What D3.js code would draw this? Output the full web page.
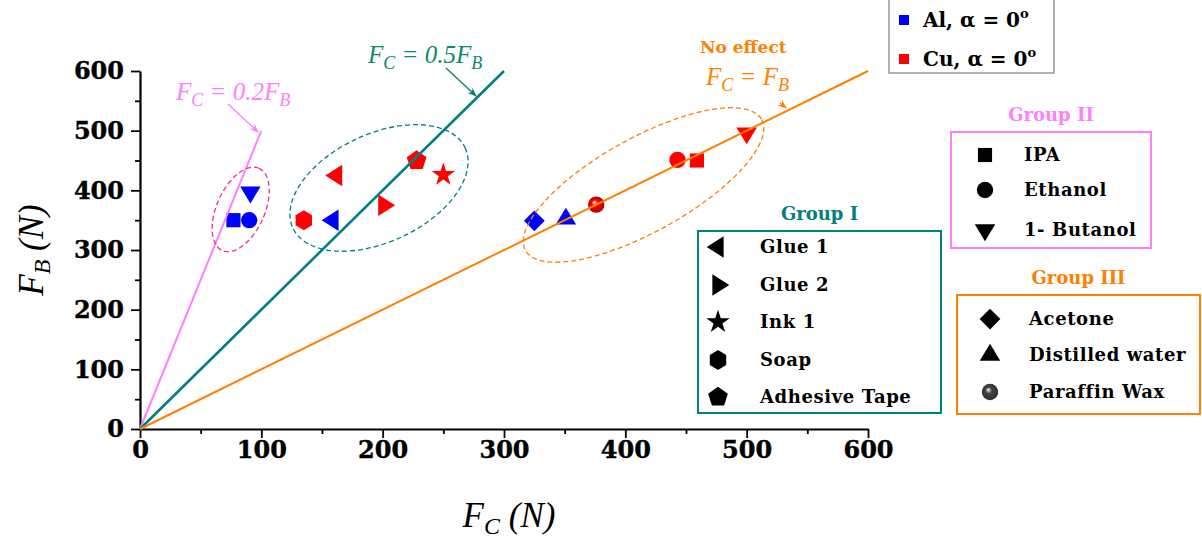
<!DOCTYPE html>
<html>
<head>
<meta charset="utf-8">
<script src="https://cdn.jsdelivr.net/npm/d3@7"></script>
<style>
  body { margin: 0; background: #fff; }
  svg { display: block; }
</style>
</head>
<body>
<div class="chart"></div>
<script>
// ---- data ----
const xTicks = [0, 100, 200, 300, 400, 500, 600];
const yTicks = [0, 100, 200, 300, 400, 500, 600];
const minorTicks = [50, 150, 250, 350, 450, 550];

const alNames = ["IPA", "Ethanol", "1- Butanol", "Glue 1", "Acetone", "Distilled water"];
const alFc = [77, 90, 91, 159, 325, 351];
const alFb = [350, 350, 397, 350, 349, 352];

const cuNames = ["Soap", "Glue 1", "Glue 2", "Adhesive Tape", "Ink 1", "Paraffin Wax", "Ethanol", "IPA", "1- Butanol"];
const cuFc = [135, 162, 201, 228, 250, 376, 443, 459, 500];
const cuFb = [350, 425, 375, 450, 426, 376, 451, 450, 496];

const group1Names = ["Glue 1", "Glue 2", "Ink 1", "Soap", "Adhesive Tape"];
const group2Names = ["IPA", "Ethanol", "1- Butanol"];
const group3Names = ["Acetone", "Distilled water", "Paraffin Wax"];

// reference lines F_B = k * F_C, drawn up to xEnd
const lineNames = ["0.2", "0.5", "1"];
const lineSlopes = [5, 2, 1];
const lineEnds = [100, 300, 600];

// ---- layout ----
const W = 1202, H = 539;
const svg = d3.select(".chart").append("svg")
    .attr("width", W).attr("height", H);

const x = d3.scaleLinear().domain([0, 600]).range([140, 868]);
const y = d3.scaleLinear().domain([0, 600]).range([429, 71]);

const pink = "#ff80ff", teal = "#008080", orange = "#ff8000";
const lineColors = [pink, teal, orange];
const serif = "'DejaVu Serif', serif";
const mathFont = "'Liberation Serif', 'Times New Roman', serif";

// gradient for the paraffin wax sphere
const defs = svg.append("defs");
function sphere(id, base) {
  const g = defs.append("radialGradient").attr("id", id)
      .attr("cx", "50%").attr("cy", "50%").attr("r", "55%")
      .attr("fx", "38%").attr("fy", "35%");
  g.append("stop").attr("offset", "0%").attr("stop-color", "#fff");
  g.append("stop").attr("offset", "35%").attr("stop-color", base);
  g.append("stop").attr("offset", "100%").attr("stop-color", d3.color(base).darker(1.2));
}
sphere("sphereRed", "#ff0000");
sphere("sphereBlack", "#444");

["pinkArrow", "tealArrow", "orangeArrow"].forEach((id, i) => {
  defs.append("marker").attr("id", id)
      .attr("viewBox", "0 0 10 10").attr("refX", 9).attr("refY", 5)
      .attr("markerWidth", 7).attr("markerHeight", 7).attr("orient", "auto")
    .append("path").attr("d", "M0,1 L10,5 L0,9 L3,5 Z")
      .attr("fill", [pink, "#0b7f6e", orange][i]);
});

// ---- custom symbol shapes ----
function polygon(n, rot, sx, sy) {
  return {
    draw(ctx, size) {
      const r = Math.sqrt(size) * 0.62;
      for (let i = 0; i < n; i++) {
        const a = rot + i * 2 * Math.PI / n;
        const px = Math.cos(a) * r * (sx || 1), py = Math.sin(a) * r * (sy || 1);
        if (i === 0) ctx.moveTo(px, py); else ctx.lineTo(px, py);
      }
      ctx.closePath();
    }
  };
}
const shapes = {
  "IPA": d3.symbolSquare,
  "Ethanol": d3.symbolCircle,
  "1- Butanol": polygon(3, Math.PI / 2, 1.05, 1),
  "Glue 1": polygon(3, Math.PI, 1, 1.1),
  "Glue 2": polygon(3, 0, 1, 1.1),
  "Ink 1": d3.symbolStar,
  "Soap": polygon(6, -Math.PI / 2, 0.95, 1),
  "Adhesive Tape": polygon(5, -Math.PI / 2),
  "Acetone": polygon(4, 0),
  "Distilled water": polygon(3, -Math.PI / 2, 1.05, 1),
  "Paraffin Wax": d3.symbolCircle
};
const sizes = {
  "IPA": 200, "Ethanol": 210, "1- Butanol": 330, "Glue 1": 330, "Glue 2": 330,
  "Ink 1": 170, "Soap": 260, "Adhesive Tape": 280, "Acetone": 280,
  "Distilled water": 330, "Paraffin Wax": 210
};
const sym = name => d3.symbol().type(shapes[name]).size(sizes[name])();

// ---- axes ----
svg.append("g").attr("transform", `translate(0,${y(0)})`)
    .call(d3.axisBottom(x).tickValues(xTicks).tickSize(9).tickSizeOuter(0).tickPadding(3));
svg.append("g").attr("transform", `translate(0,${y(0)})`)
    .call(d3.axisBottom(x).tickValues(minorTicks).tickSize(5).tickSizeOuter(0).tickFormat(""))
    .select(".domain").remove();
svg.append("g").attr("transform", `translate(${x(0)},0)`)
    .call(d3.axisLeft(y).tickValues(yTicks).tickSize(9).tickSizeOuter(0).tickPadding(7));
svg.append("g").attr("transform", `translate(${x(0)},0)`)
    .call(d3.axisLeft(y).tickValues(minorTicks).tickSize(5).tickSizeOuter(0).tickFormat(""))
    .select(".domain").remove();

svg.selectAll(".domain").attr("stroke", "#000").attr("stroke-width", 2.2);
svg.selectAll(".tick line").attr("stroke", "#000").attr("stroke-width", 1.8);
svg.selectAll(".tick text")
    .attr("font-family", serif).attr("font-weight", "bold")
    .attr("font-size", 24).attr("fill", "#000")
    .attr("stroke", "#000").attr("stroke-width", 0.4);

// axis titles
svg.append("text")
    .attr("transform", `translate(43,${(y(0) + y(600)) / 2}) rotate(-90)`)
    .attr("text-anchor", "middle")
    .attr("font-family", mathFont).attr("font-style", "italic").attr("font-size", 35)
    .html('F<tspan dy="7" font-size="24">B</tspan><tspan dy="-7"> (N)</tspan>');
svg.append("text")
    .attr("x", (x(0) + x(600)) / 2 + 5).attr("y", 527)
    .attr("text-anchor", "middle")
    .attr("font-family", mathFont).attr("font-style", "italic").attr("font-size", 35)
    .html('F<tspan dy="7" font-size="24">C</tspan><tspan dy="-7"> (N)</tspan>');

// ---- points ----
const pts = svg.append("g");
alNames.forEach((n, i) => {
  pts.append("path").attr("d", sym(n))
      .attr("transform", `translate(${x(alFc[i])},${y(alFb[i])})`)
      .attr("fill", "#0000ff");
});
cuNames.forEach((n, i) => {
  pts.append("path").attr("d", sym(n))
      .attr("transform", `translate(${x(cuFc[i])},${y(cuFb[i])})`)
      .attr("fill", n === "Paraffin Wax" ? "url(#sphereRed)" : "#ff0000");
});

// ---- reference lines ----
lineNames.forEach((n, i) => {
  svg.append("line")
      .attr("x1", x(0)).attr("y1", y(0))
      .attr("x2", x(lineEnds[i])).attr("y2", y(lineEnds[i] * lineSlopes[i]))
      .attr("stroke", lineColors[i]).attr("stroke-width", i === 1 ? 2.6 : 2);
});

// ---- dashed group ellipses (centre in data units, axes in px) ----
const ellCx = [83, 197, 415];
const ellCy = [368, 404, 409];
const ellRx = [45, 95, 135];
const ellRy = [24, 54, 47];
const ellRot = [-66, -25, -29];
const ellColors = ["#f0308c", teal, orange];
ellCx.forEach((c, i) => {
  svg.append("ellipse")
      .attr("cx", 0).attr("cy", 0).attr("rx", ellRx[i]).attr("ry", ellRy[i])
      .attr("transform", `translate(${x(c)},${y(ellCy[i])}) rotate(${ellRot[i]})`)
      .attr("fill", "none").attr("stroke", ellColors[i])
      .attr("stroke-width", 1.3).attr("stroke-dasharray", "5,3");
});

// ---- annotations ----
function mathLabel(px, py, color, sub1, rest, sub2) {
  svg.append("text").attr("x", px).attr("y", py)
      .attr("font-family", mathFont).attr("font-style", "italic")
      .attr("font-size", 25).attr("fill", color)
      .html(`F<tspan dy="6" font-size="18">${sub1}</tspan><tspan dy="-6"> ${rest}</tspan><tspan dy="6" font-size="18">${sub2}</tspan>`);
}
mathLabel(176, 100, pink, "C", "= 0.2F", "B");
mathLabel(368, 63, "#0b8a6a", "C", "= 0.5F", "B");
mathLabel(706, 85, orange, "C", "= F", "B");
svg.append("text").attr("x", 700).attr("y", 53)
    .attr("font-family", serif).attr("font-weight", "bold")
    .attr("font-size", 17).attr("fill", orange).text("No effect");

svg.append("line").attr("x1", 228).attr("y1", 104).attr("x2", 258).attr("y2", 132)
    .attr("stroke", pink).attr("stroke-width", 1.3).attr("marker-end", "url(#pinkArrow)");
svg.append("line").attr("x1", 446).attr("y1", 68).attr("x2", 476).attr("y2", 96)
    .attr("stroke", "#0b7f6e").attr("stroke-width", 1.3).attr("marker-end", "url(#tealArrow)");
svg.append("line").attr("x1", 780).attr("y1", 103).attr("x2", 786).attr("y2", 108)
    .attr("stroke", orange).attr("stroke-width", 1.3).attr("marker-end", "url(#orangeArrow)");

// ---- legends ----
function legendBox(bx, by, bw, bh, color, title, names, rowY, symX, textX) {
  svg.append("text").attr("x", bx + bw / 2).attr("y", by - 11)
      .attr("text-anchor", "middle")
      .attr("font-family", serif).attr("font-weight", "bold")
      .attr("font-size", 18).attr("fill", color).text(title);
  svg.append("rect").attr("x", bx).attr("y", by).attr("width", bw).attr("height", bh)
      .attr("fill", "#fff").attr("stroke", color).attr("stroke-width", 2);
  names.forEach((n, i) => {
    svg.append("path").attr("d", sym(n))
        .attr("transform", `translate(${bx + symX},${by + rowY[i]})`)
        .attr("fill", n === "Paraffin Wax" ? "url(#sphereBlack)" : "#000");
    svg.append("text").attr("x", bx + textX).attr("y", by + rowY[i] + 6)
        .attr("font-family", serif).attr("font-weight", "bold")
        .attr("font-size", 18).attr("letter-spacing", 0.6).attr("fill", "#000").text(n);
  });
}
legendBox(698, 231, 243, 182, teal, "Group I", group1Names, [16, 54, 91, 129, 166], 20, 62);
legendBox(951, 132, 200, 116, pink, "Group II", group2Names, [23, 58, 98], 34, 73);
legendBox(957, 295, 243, 119, orange, "Group III", group3Names, [24, 60, 97], 33, 72);

// metal legend (top right)
svg.append("rect").attr("x", 889).attr("y", -2).attr("width", 165).attr("height", 75)
    .attr("fill", "#fff").attr("stroke", "#999").attr("stroke-width", 1.5);
const metals = ["Al", "Cu"];
const metalColors = ["#0000ff", "#ff0000"];
metals.forEach((m, i) => {
  const ry = 20 + i * 39;
  svg.append("rect").attr("x", 899).attr("y", ry - 5).attr("width", 10).attr("height", 10)
      .attr("fill", metalColors[i]);
  svg.append("text").attr("x", 923).attr("y", ry + 7)
      .attr("font-family", serif).attr("font-weight", "bold")
      .attr("font-size", 20).attr("fill", "#000")
      .html(`${m}, α = 0<tspan dy="-9" font-size="13">o</tspan>`);
});
</script>
</body>
</html>
